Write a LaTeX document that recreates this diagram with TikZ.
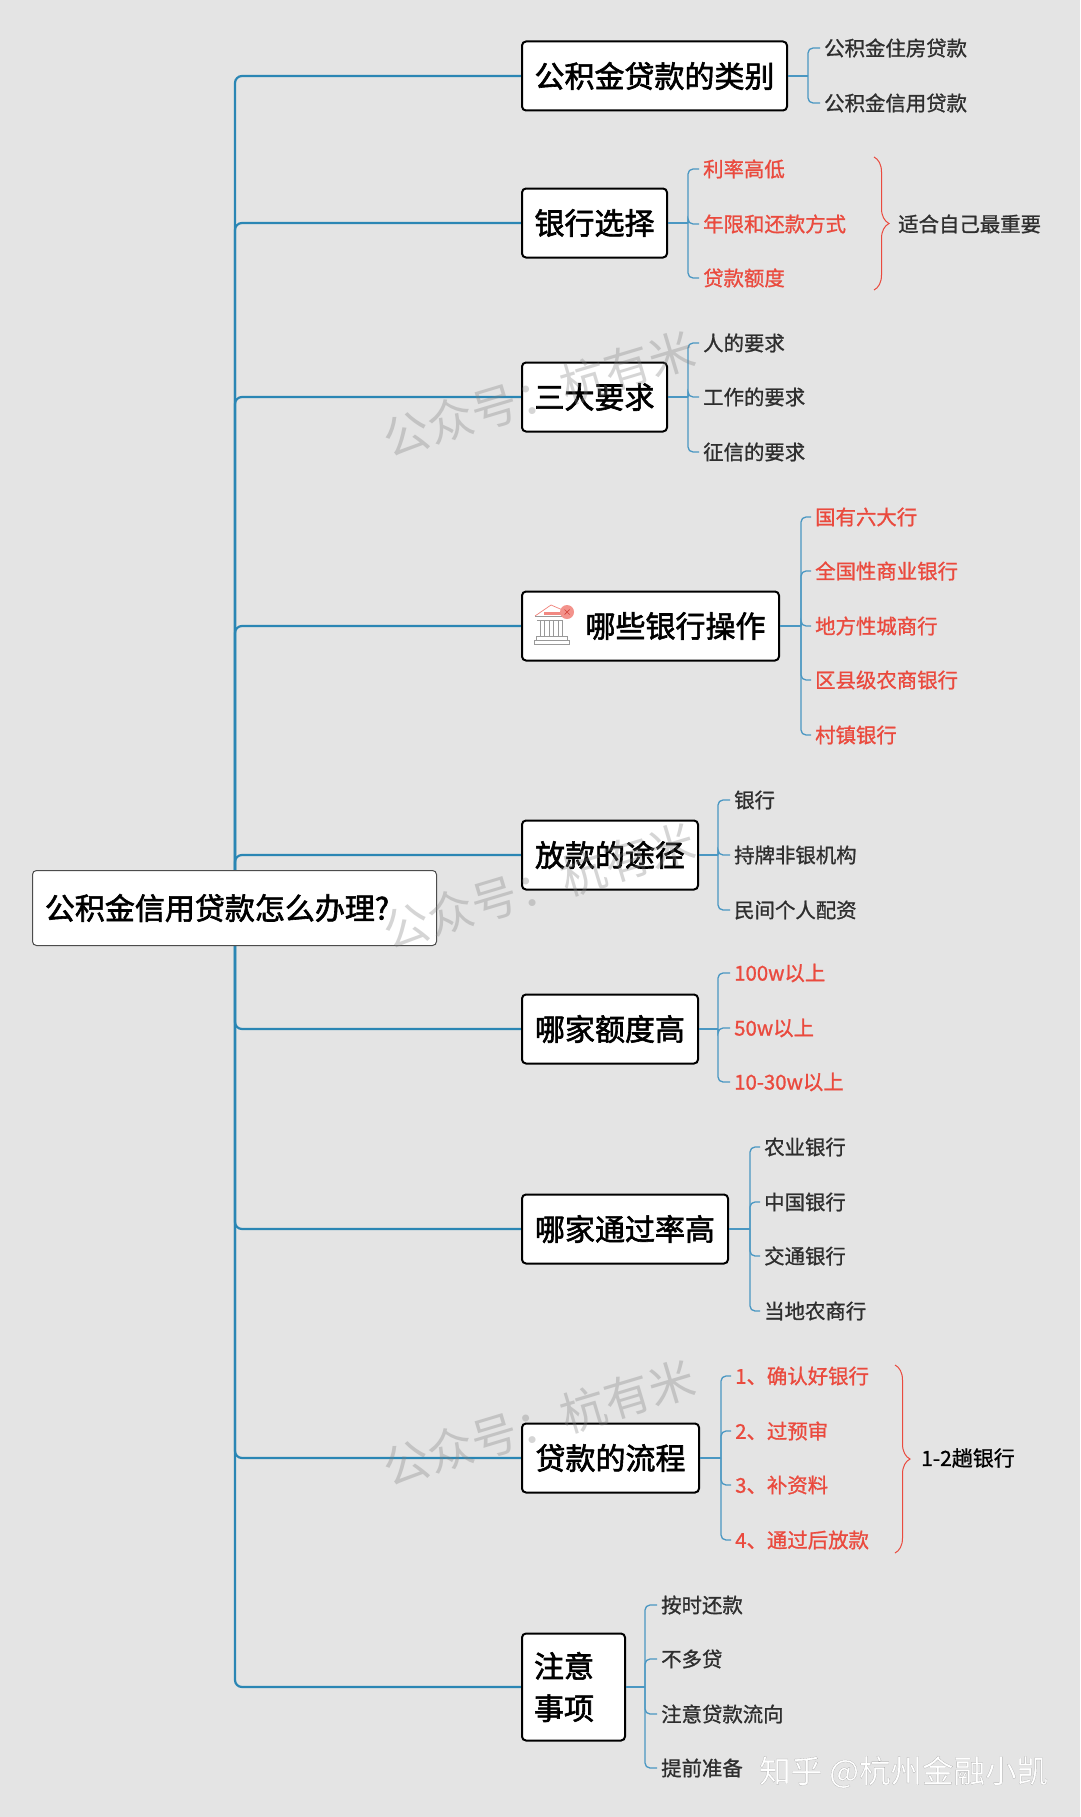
\documentclass[tikz,border=0pt]{standalone}
\usepackage{fontspec}
\setmainfont{Noto Sans CJK SC}
\newfontfamily\heavycjk[FakeBold=2]{Noto Sans CJK SC}
\newfontfamily\midcjk[FakeBold=1]{Noto Sans CJK SC}
\newfontfamily\outlinecjk[FakeBold=0.35]{Noto Sans CJK SC}
\usetikzlibrary{backgrounds,decorations.pathreplacing}

\definecolor{pagegray}{HTML}{E4E4E4}
\definecolor{trunkblue}{HTML}{2A86B4}
\definecolor{twigblue}{HTML}{4A97C2}
\definecolor{leafred}{HTML}{EA4A3E}
\definecolor{leafdark}{HTML}{2E2E2E}

\tikzset{
  topic/.style={draw=black, line width=2pt, fill=white, rounded corners=4pt, anchor=west, minimum height=69pt, inner sep=0pt, font=\heavycjk\fontsize{30}{42}\selectfont},
  leaf/.style={anchor=west, inner xsep=4pt, inner ysep=0pt, text=leafdark, font=\midcjk\fontsize{20.4}{24}\selectfont},
  redleaf/.style={leaf, text=leafred},
  trunk/.style={draw=trunkblue, line width=2.2pt, rounded corners=7pt},
  twig/.style={draw=twigblue, line width=1.3pt, rounded corners=5pt},
  curly/.style={draw=leafred, line width=1pt, decorate, decoration={brace, amplitude=15pt}},
  stamp/.style={text=gray, opacity=0.33, rotate=16.7, font=\fontsize{46}{50}\selectfont},
}

\begin{document}
\begin{tikzpicture}[x=1pt, y=-1pt]
\useasboundingbox (0,0) rectangle (1080,1817);

\node[topic, minimum width=265pt] (kinds) at (521,76) {公积金贷款的类别};
\node[topic, minimum width=145pt] (choice) at (521,223) {银行选择};
\node[topic, minimum width=145pt] (needs) at (521,397) {三大要求};
\node[topic, minimum width=257pt] (banks) at (521,626) {\hspace*{50pt}哪些银行操作};
\node[topic, minimum width=176pt] (route) at (521,855) {放款的途径};
\node[topic, minimum width=176pt] (limit) at (521,1029) {哪家额度高};
\node[topic, minimum width=206pt] (pass) at (521,1229) {哪家通过率高};
\node[topic, minimum width=177pt] (flow) at (521,1458) {贷款的流程};
\node[topic, minimum width=103pt, minimum height=107pt, align=left] (notes) at (521,1687) {注意\hspace*{19pt}\\事项\hspace*{19pt}};
\node[draw=black!70, line width=1pt, fill=white, rounded corners=4pt, minimum width=404pt, minimum height=75pt, inner sep=0pt, font=\heavycjk\fontsize{30}{36}\selectfont] (root) at (234.5,908) {公积金信用贷款怎么办理?\hspace*{35pt}};

\coordinate (spine) at (235,908);
\coordinate (jkinds) at (808,76);
\coordinate (jchoice) at (688,223);
\coordinate (jneeds) at (688,397);
\coordinate (jbanks) at (801,626);
\coordinate (jroute) at (718,855);
\coordinate (jlimit) at (718,1029);
\coordinate (jpass) at (750,1229);
\coordinate (jflow) at (721,1458);
\coordinate (jnotes) at (645,1687);

\foreach \y/\t [count=\i] in {48/公积金住房贷款,103/公积金信用贷款} {
  \node[leaf] (kinds\i) at (820,\y) {\t};
  \draw[twig] (jkinds) |- (kinds\i.west);
}
\foreach \y/\t [count=\i] in {169/利率高低,224/年限和还款方式,278/贷款额度} {
  \node[redleaf] (choice\i) at (699,\y) {\t};
  \draw[twig] (jchoice) |- (choice\i.west);
}
\foreach \y/\t [count=\i] in {343/人的要求,397/工作的要求,452/征信的要求} {
  \node[leaf] (needs\i) at (699,\y) {\t};
  \draw[twig] (jneeds) |- (needs\i.west);
}
\foreach \y/\t [count=\i] in {517/国有六大行,571/全国性商业银行,626/地方性城商行,680/区县级农商银行,735/村镇银行} {
  \node[redleaf] (banks\i) at (811,\y) {\t};
  \draw[twig] (jbanks) |- (banks\i.west);
}
\foreach \y/\t [count=\i] in {800/银行,855/持牌非银机构,910/民间个人配资} {
  \node[leaf] (route\i) at (730,\y) {\t};
  \draw[twig] (jroute) |- (route\i.west);
}
\foreach \y/\t [count=\i] in {973/100w以上,1028/50w以上,1082/10-30w以上} {
  \node[redleaf] (limit\i) at (730,\y) {\t};
  \draw[twig] (jlimit) |- (limit\i.west);
}
\foreach \y/\t [count=\i] in {1147/农业银行,1202/中国银行,1256/交通银行,1311/当地农商行} {
  \node[leaf] (pass\i) at (760,\y) {\t};
  \draw[twig] (jpass) |- (pass\i.west);
}
\foreach \y/\t [count=\i] in {1376/1、确认好银行,1431/2、过预审,1485/3、补资料,1540/4、通过后放款} {
  \node[redleaf] (flow\i) at (731,\y) {\t};
  \draw[twig] (jflow) |- (flow\i.west);
}
\foreach \y/\t [count=\i] in {1605/按时还款,1659/不多贷,1714/注意贷款流向,1768/提前准备} {
  \node[leaf] (notes\i) at (657,\y) {\t};
  \draw[twig] (jnotes) |- (notes\i.west);
}
\foreach \n in {kinds,choice,needs,banks,route,limit,pass,flow,notes} {
  \draw[twig] (\n.east) -- (j\n);
}

% braces and their labels
\node[leaf] (fit) at (894,224) {适合自己最重要};
\node[leaf, text=black, font=\midcjk\fontsize{21}{24}\selectfont] (trips) at (917,1458) {1-2趟银行};
\coordinate (fittop) at (874,157);
\coordinate (fitbot) at (874,290);
\coordinate (tripstop) at (895,1365);
\coordinate (tripsbot) at (895,1553);
\draw[curly] (fittop) -- (fitbot);
\draw[curly] (tripstop) -- (tripsbot);

% bank icon
\begin{scope}[shift={(534,603)}, line width=0.7pt, draw=gray!80]
\draw[draw=leafred!70] (1,13) -- (17,2) -- (31,8);
\draw (1,13) -- (31,13) (3,17) -- (28,17);
\fill[leafred!65] (10,9) rectangle (27,12);
\foreach \x in {6,15,24} {
  \draw (\x,17) -- (\x,33) (\x+4,17) -- (\x+4,33);
}
\draw (2,33) rectangle (33,37) (0,37) rectangle (35,41);
\fill[leafred!60] (33,9) circle (7pt);
\draw[leafred!90!black] (30.5,6.5) -- (35.5,11.5) (35.5,6.5) -- (30.5,11.5);
\end{scope}

% watermarks
\node[stamp] (stamp1) at (539,394) {公众号：杭有米};
\node[stamp] (stamp2) at (539,886) {公众号：杭有米};
\node[stamp] (stamp3) at (539,1423) {公众号：杭有米};
\node[anchor=west, inner sep=0pt, font=\outlinecjk\fontsize{31.5}{36}\selectfont] (zhihu) at (759,1772) {\special{pdf:bcolor [1 1 1] [0.6 0.6 0.6]}知乎 @杭州金融小凯\special{pdf:ecolor}};

\begin{scope}[on background layer]
\fill[pagegray] (0,0) rectangle (1080,1817);
\foreach \n in {kinds,choice,needs,banks,route,limit,pass,flow,notes} {
  \draw[trunk] (spine) |- (\n.west);
}
\end{scope}
\end{tikzpicture}
\end{document}
